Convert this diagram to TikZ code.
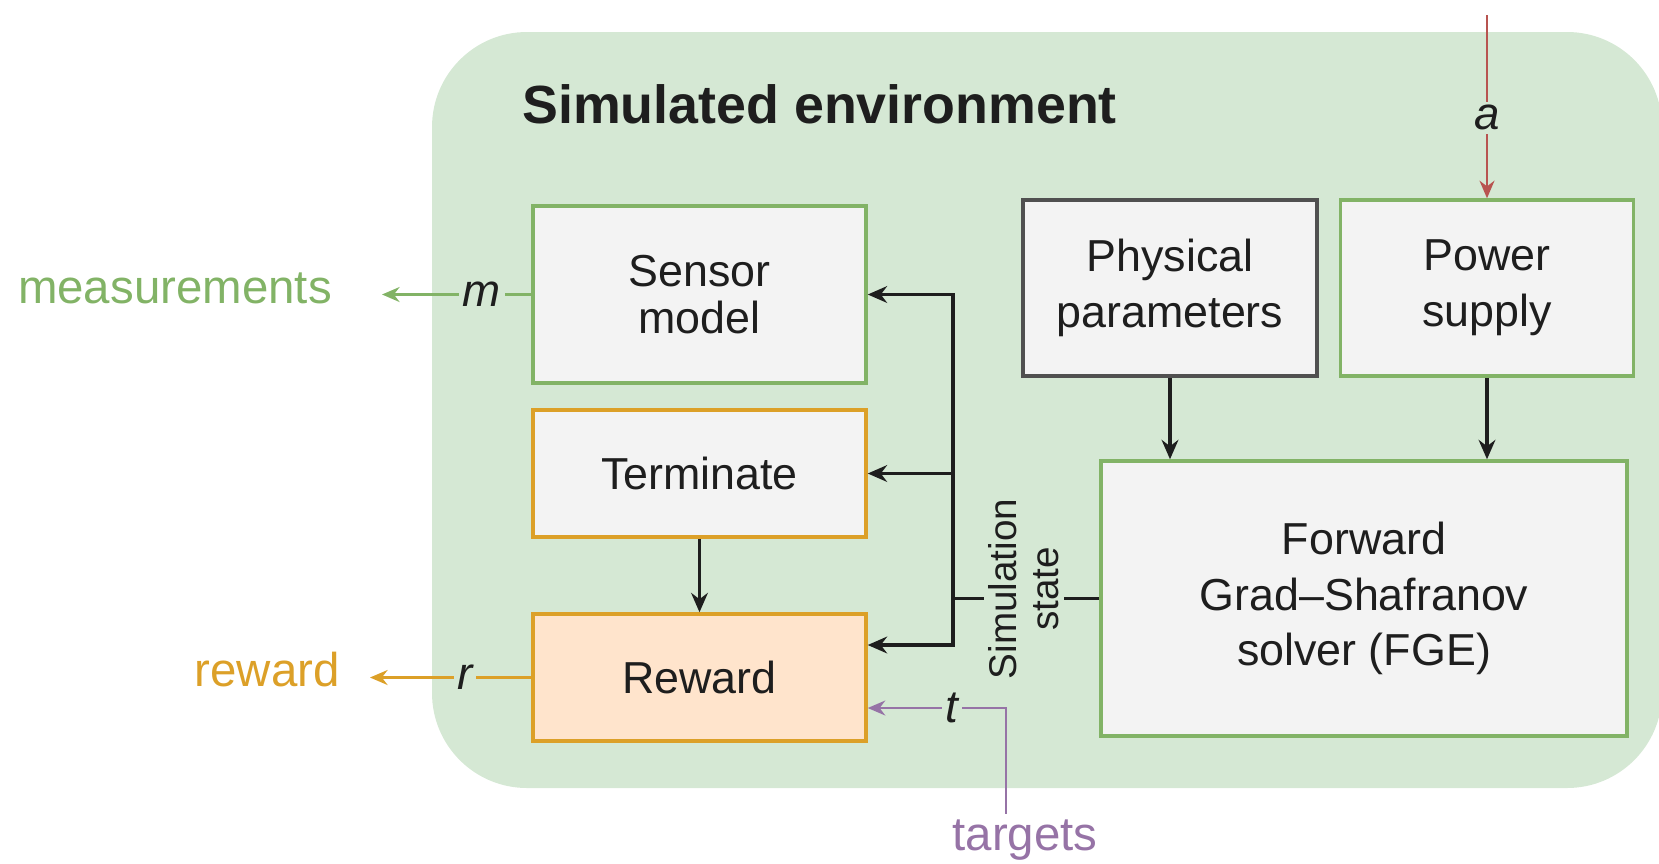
\documentclass[tikz,border=0pt]{standalone}
\usepackage{fontspec}
\setmainfont{Liberation Sans}
\usepackage{xcolor}
\usepackage{tikz}
\usetikzlibrary{arrows.meta,calc}
\definecolor{envbg}{RGB}{213,232,212}
\definecolor{boxfill}{RGB}{243,243,243}
\definecolor{sensgreen}{RGB}{130,179,102}
\definecolor{termorange}{RGB}{220,160,40}
\definecolor{rewfill}{RGB}{255,228,204}
\definecolor{physgray}{RGB}{80,80,80}
\definecolor{targpurple}{RGB}{150,115,166}
\definecolor{actred}{RGB}{184,84,80}
\definecolor{inkcol}{RGB}{30,30,30}

\begin{document}
\begin{tikzpicture}[x=0.02cm, y=-0.02cm,
    every node/.style={text=inkcol},
    blk/.style={draw, line width=2pt, fill=boxfill, align=center, inner sep=0pt,
      font=\fontsize{25.5}{31.7}\selectfont},
    flow/.style={inkcol, line width=1.9pt},
    flowarr/.style={flow, -{Stealth[length=11pt,width=9.5pt]}},
    sig/.style={line width=1.4pt, -{Stealth[length=10pt,width=8.5pt]}},
    siglbl/.style={fill=envbg, inner sep=2pt, font=\fontsize{26}{30}\selectfont\itshape},
    outlbl/.style={font=\fontsize{27}{32}\selectfont}]

    \useasboundingbox (0,0) rectangle (1659,863);

    %% simulated environment panel
    \fill[envbg, rounded corners=1.9cm] (432,32) rectangle (1662,788);
    \node[anchor=west, inner sep=0pt, font=\bfseries\fontsize{30.6}{36}\selectfont]
      (envtitle) at (522,104) {Simulated environment};

    %% blocks
    \node[blk, draw=sensgreen, minimum width=6.66cm, minimum height=3.54cm,
      font=\fontsize{25.5}{26.5}\selectfont] (sensor) at (699.5,294.5) {Sensor\\model};
    \node[blk, draw=termorange, minimum width=6.66cm, minimum height=2.54cm]
      (term) at (699.5,473.5) {Terminate};
    \node[blk, draw=termorange, fill=rewfill, minimum width=6.66cm, minimum height=2.54cm]
      (reward) at (699.5,677.5) {Reward};
    \node[blk, draw=physgray, line width=2.6pt, minimum width=5.88cm, minimum height=3.52cm]
      (phys) at (1170,288) {Physical\\parameters};
    \node[blk, draw=sensgreen, minimum width=5.86cm, minimum height=3.52cm]
      (power) at (1487,288) {Power\\supply};
    \node[blk, draw=sensgreen, minimum width=10.52cm, minimum height=5.5cm]
      (fge) at (1364,598.5) {Forward\\Grad--Shafranov\\solver (FGE)};

    %% simulation state bus
    \coordinate (bustop) at (953,294.5);
    \coordinate (busbot) at (953,645);
    \draw[flowarr] (busbot) -- (bustop) -- (sensor.east);
    \draw[flowarr] (bustop |- term.east) -- (busbot) -- (reward.east |- busbot);
    \draw[flowarr] (bustop |- term.east) -- (term.east);
    \draw[flow] (fge.west -| bustop) -- (fge.west);
    \node[fill=envbg, rotate=90, align=center, inner sep=3pt,
      font=\fontsize{22}{23.8}\selectfont] (simstate) at (1024,589) {Simulation\\state};

    \draw[flowarr] (term.south) -- (reward.north);
    \draw[flowarr] (phys.south) -- (phys.south |- fge.north);
    \draw[flowarr] (power.south) -- (power.south |- fge.north);

    %% outputs and inputs
    \node[outlbl, text=sensgreen, anchor=east] (meas) at (338,288) {measurements};
    \coordinate (mtip) at (382,294.5);
    \draw[sig, sensgreen] (sensor.west) -- node[siglbl, pos=0.33] {m} (mtip);

    \node[outlbl, text=termorange, anchor=east] (rewout) at (346,670) {reward};
    \coordinate (rtip) at (370,677.5);
    \draw[sig, termorange] (reward.west) -- node[siglbl, pos=0.41] {r} (rtip);

    \node[outlbl, text=targpurple] (targets) at (1025,840) {targets};
    \coordinate (tbend) at (1006,708);
    \draw[sig, targpurple] (targets.north -| tbend) -- (tbend)
      -- node[siglbl, pos=0.39] {t} (reward.east |- tbend);

    \coordinate (atop) at (1487,15);
    \draw[sig, actred] (atop) -- node[siglbl, pos=0.56] {a} (atop |- power.north);

\end{tikzpicture}
\end{document}
